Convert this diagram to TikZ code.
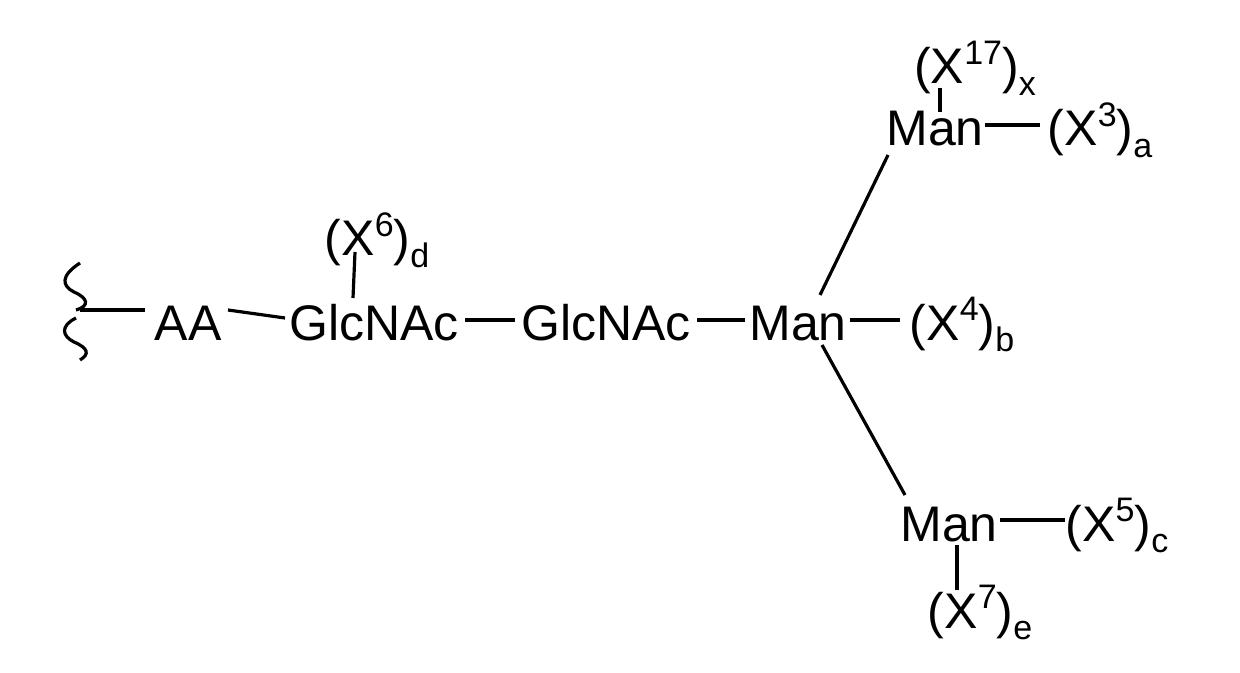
\documentclass[tikz,border=0pt]{standalone}
\usepackage{fontspec}
\usetikzlibrary{calc}
\setmainfont{Liberation Sans}
\newcommand{\myup}[1]{\raisebox{0.75ex}{\fontsize{17}{17}\selectfont #1}}
\newcommand{\mydn}[1]{\raisebox{-0.45ex}{\fontsize{17}{17}\selectfont #1}}
\begin{document}
\begin{tikzpicture}[x=0.5pt,y=-0.5pt,
  t/.style={inner sep=0pt,anchor=base,font=\fontsize{25}{28}\selectfont},
  bond/.style={line width=1.6pt}]
\useasboundingbox (0,0) rectangle (1240,673);
\node[t] (aa) at (188,340) {AA};
\node[t] (g1) at (374,340) {GlcNAc};
\node[t] (g2) at (606,340) {GlcNAc};
\node[t] (m) at (798,340) {Man};
\node[t] (x4) at (962,340) {(X\myup{4})\mydn{b}};
\node[t] (mt) at (935,146) {Man};
\node[t] (x3) at (1100,146) {(X\myup{3})\mydn{a}};
\node[t] (x17) at (975,84) {(X\myup{17})\mydn{x}};
\node[t] (mb) at (949,541) {Man};
\node[t] (x5) at (1117,541) {(X\myup{5})\mydn{c}};
\node[t] (x7) at (980,628) {(X\myup{7})\mydn{e}};
\node[t] (x6) at (377,256) {(X\myup{6})\mydn{d}};
\coordinate (sq) at (80,310);
\draw[bond] (sq) -- ($(aa.base)+(-43,-30)$);
\draw[bond] ($(aa.base)+(40,-30)$) -- ($(g1.base)+(-89,-22)$);
\draw[bond] ($(g1.base)+(91,-20)$) -- ($(g2.base)+(-91,-20)$);
\draw[bond] ($(g2.base)+(91,-20)$) -- ($(m.base)+(-53,-20)$);
\draw[bond] ($(m.base)+(52,-20)$) -- ($(x4.base)+(-62,-20)$);
\draw[bond] ($(mt.base)+(50,-21)$) -- ($(x3.base)+(-60,-21)$);
\draw[bond] ($(x17.base)+(-35,4)$) -- ($(mt.base)+(5,-34)$);
\draw[bond] ($(m.base)+(22,-45)$) -- ($(mt.base)+(-47,9)$);
\draw[bond] ($(m.base)+(24,5)$) -- ($(mb.base)+(-44,-46)$);
\draw[bond] ($(mb.base)+(51,-21)$) -- ($(x5.base)+(-52,-21)$);
\draw[bond] ($(mb.base)+(8,4)$) -- ($(x7.base)+(-23,-38)$);
\draw[bond] ($(x6.base)+(-22,-4)$) -- ($(g1.base)+(-21,-42)$);
\draw[bond] (80,263) .. controls (60,276) and (62,286) .. (74,292) .. controls (88,298) and (90,306) .. (76,310);
\draw[bond] (76,318) .. controls (60,326) and (62,336) .. (74,342) .. controls (88,348) and (90,354) .. (80,360);
\end{tikzpicture}
\end{document}
